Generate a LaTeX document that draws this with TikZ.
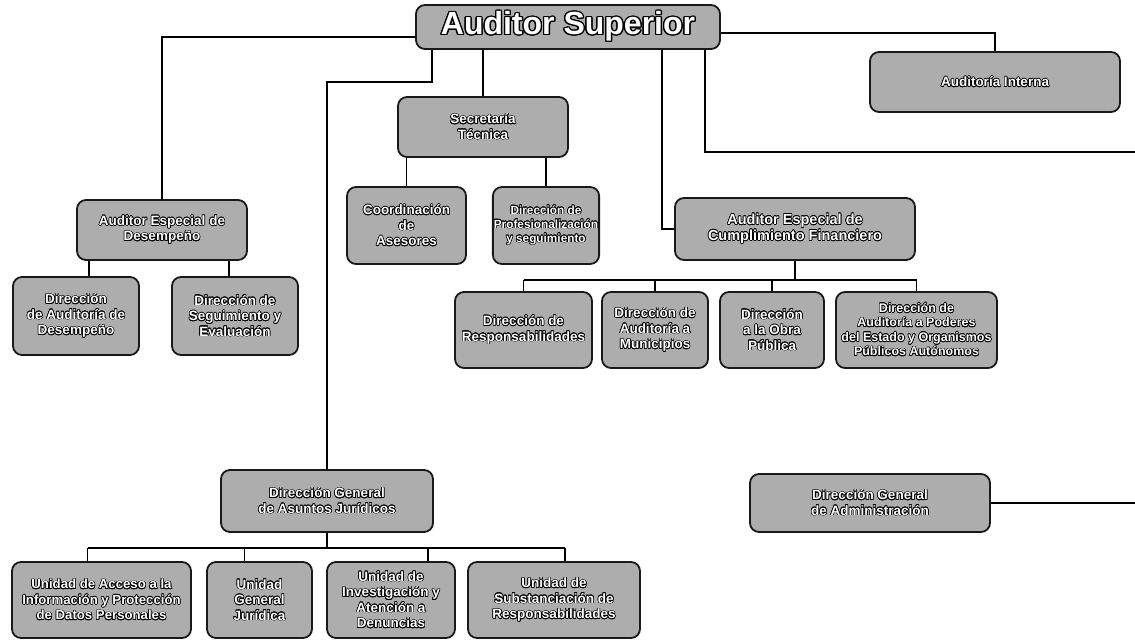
\documentclass[tikz,border=0pt]{standalone}
\usepackage{fontspec}
\setmainfont{Liberation Sans}
\usepackage{contour}
\contourlength{0.6pt}
\newcommand\oln[1]{\contour{black}{#1}}
\tikzset{
  orgbox/.style={draw=black!90, line width=1.8pt, rounded corners=9pt, fill=black!32,
    text=white, align=center, font=\bfseries\fontsize{13.5}{15.5}\selectfont, inner sep=1pt},
  link/.style={draw=black, line width=1.4pt}
}
\begin{document}
\begin{tikzpicture}[x=1pt,y=-1pt]
\useasboundingbox (0,0) rectangle (1135,640);
% nodes
\node[orgbox, minimum width=304pt, minimum height=44pt, font=\bfseries\fontsize{32}{34}\selectfont] (as) at (568,27) {\contourlength{1.3pt}\contour{black}{Auditor Superior}};
\node[orgbox, minimum width=250pt, minimum height=60pt] (ai) at (995,82) {\oln{Auditoría Interna}};
\node[orgbox, minimum width=170pt, minimum height=60pt] (st) at (483,127) {\oln{Secretaría}\\\oln{Técnica}};
\node[orgbox, minimum width=119pt, minimum height=77pt] (ca) at (406.5,225.5) {\oln{Coordinación}\\\oln{de}\\\oln{Asesores}};
\node[orgbox, minimum width=102pt, minimum height=77pt, font=\bfseries\fontsize{11.8}{14}\selectfont] (dps) at (546,225.5) {\oln{Dirección de}\\\oln{Profesionalización}\\\oln{y seguimiento}};
\node[orgbox, minimum width=170pt, minimum height=60pt] (aed) at (162,230) {\oln{Auditor Especial de}\\\oln{Desempeño}};
\node[orgbox, minimum width=126pt, minimum height=78pt] (dad) at (76,316) {\oln{Dirección}\\\oln{de Auditoría de}\\\oln{Desempeño}};
\node[orgbox, minimum width=126pt, minimum height=78pt] (dse) at (235,316) {\oln{Dirección de}\\\oln{Seguimiento y}\\\oln{Evaluación}};
\node[orgbox, minimum width=240pt, minimum height=62pt, font=\bfseries\fontsize{14.5}{16}\selectfont] (aecf) at (795,229) {\oln{Auditor Especial de}\\\oln{Cumplimiento Financiero}};
\node[orgbox, minimum width=137pt, minimum height=76pt] (dr) at (523.5,330) {\oln{Dirección de}\\\oln{Responsabilidades}};
\node[orgbox, minimum width=106pt, minimum height=76pt] (dam) at (655,330) {\oln{Dirección de}\\\oln{Auditoría a}\\\oln{Municipios}};
\node[orgbox, minimum width=104pt, minimum height=76pt] (dop) at (772,330) {\oln{Dirección}\\\oln{a la Obra}\\\oln{Pública}};
\node[orgbox, minimum width=161pt, minimum height=76pt, font=\bfseries\fontsize{12.5}{14.5}\selectfont] (dap) at (916.5,330) {\oln{Dirección de}\\\oln{Auditoría a Poderes}\\\oln{del Estado y Organismos}\\\oln{Públicos Autónomos}};
\node[orgbox, minimum width=212pt, minimum height=62pt] (dgaj) at (327,501) {\oln{Dirección General}\\\oln{de Asuntos Jurídicos}};
\node[orgbox, minimum width=179pt, minimum height=76pt, font=\bfseries\fontsize{13.2}{15.5}\selectfont] (u1) at (101.5,600) {\oln{Unidad de Acceso a la}\\\oln{Información y Protección}\\\oln{de Datos Personales}};
\node[orgbox, minimum width=105pt, minimum height=76pt] (u2) at (259.5,600) {\oln{Unidad}\\\oln{General}\\\oln{Jurídica}};
\node[orgbox, minimum width=128pt, minimum height=76pt] (u3) at (391,600) {\oln{Unidad de}\\\oln{Investigación y}\\\oln{Atención a}\\\oln{Denuncias}};
\node[orgbox, minimum width=172pt, minimum height=76pt] (u4) at (554,600) {\oln{Unidad de}\\\oln{Substanciación de}\\\oln{Responsabilidades}};
\node[orgbox, minimum width=240pt, minimum height=58pt] (dga) at (870,503) {\oln{Dirección General}\\\oln{de Administración}};
% helper coordinates
\coordinate (b1) at (432,82);
\coordinate (b2) at (662,0);
\coordinate (b3) at (705,152);
\coordinate (e1) at (1135,152);
\coordinate (e2) at (1135,503);
\coordinate (bus1) at (0,280);
\coordinate (bus2) at (0,548);
% connectors
\draw[link] ([yshift=-10pt]as.west) -| (aed.north);
\draw[link] ([yshift=-6pt]as.east) -| (ai.north);
\draw[link] (as.south -| b1) -- (b1) -| (dgaj.north);
\draw[link] (as.south -| st.north) -- (st.north);
\draw[link] (as.south -| b2) |- (aecf.west);
\draw[link] (as.south -| b3) -- (b3) -- (e1);
\draw[link] (st.south -| ca.north) -- (ca.north);
\draw[link] (st.south -| dps.north) -- (dps.north);
\draw[link] ([xshift=13pt]dad.north |- aed.south) -- ([xshift=13pt]dad.north);
\draw[link] ([xshift=-6pt]dse.north |- aed.south) -- ([xshift=-6pt]dse.north);
\draw[link] (aecf.south) -- (aecf.south |- bus1);
\draw[link] (dr.north |- bus1) -- (dap.north |- bus1);
\foreach \n in {dr,dam,dop,dap} \draw[link] (\n.north |- bus1) -- (\n.north);
\draw[link] (dgaj.south) -- (dgaj.south |- bus2);
\draw[link] ([xshift=-14pt]u1.north |- bus2) -- ([xshift=11pt]u4.north |- bus2);
\draw[link] ([xshift=-14pt]u1.north |- bus2) -- ([xshift=-14pt]u1.north);
\draw[link] ([xshift=-15pt]u2.north |- bus2) -- ([xshift=-15pt]u2.north);
\draw[link] ([xshift=37pt]u3.north |- bus2) -- ([xshift=37pt]u3.north);
\draw[link] ([xshift=11pt]u4.north |- bus2) -- ([xshift=11pt]u4.north);
\draw[link] (dga.east) -- (e2);
\end{tikzpicture}
\end{document}
